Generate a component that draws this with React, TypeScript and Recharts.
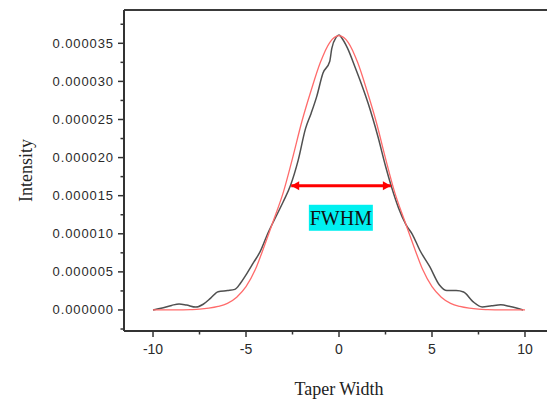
import React from "react";
import { LineChart, Line, XAxis, YAxis, ReferenceLine, ReferenceDot } from "recharts";

// ---- data (intensity values in absolute units) ----
const measuredX = [
  -10, -9.5, -9, -8.6, -8.2, -7.7, -7.3, -6.9, -6.5, -6.0, -5.6, -5.3, -5.0, -4.6, -4.24, -3.8,
  -3.4, -3.0, -2.6, -2.2, -1.8, -1.5, -1.2, -0.86, -0.5, -0.39, -0.15, 0, 0.15, 0.45, 0.86, 1.2,
  1.57, 2.1, 2.5, 2.83, 3.2, 3.6, 3.95, 4.34, 4.88, 5.4, 5.8, 6.3, 6.7, 7.2, 7.7, 8.2, 8.7, 9.2, 9.9,
];
const measuredY = [
  0, 0.25e-6, 0.6e-6, 0.8e-6, 0.65e-6, 0.38e-6, 0.75e-6, 1.55e-6, 2.4e-6, 2.55e-6, 2.7e-6, 3.5e-6,
  4.6e-6, 6.2e-6, 7.65e-6, 10.2e-6, 12.2e-6, 14.2e-6, 16.4e-6, 19.6e-6, 23.8e-6, 25.8e-6, 28.0e-6,
  31.1e-6, 32.6e-6, 34.3e-6, 35.8e-6, 36.1e-6, 35.7e-6, 34.4e-6, 31.9e-6, 29.7e-6, 27.1e-6, 22.7e-6,
  18.9e-6, 16.1e-6, 13.4e-6, 11.2e-6, 9.9e-6, 7.87e-6, 5.68e-6, 3.28e-6, 2.55e-6, 2.55e-6, 2.35e-6,
  1.1e-6, 0.4e-6, 0.55e-6, 0.68e-6, 0.45e-6, 0,
];
const fitX = [
  -10, -9.5, -9, -8.5, -8, -7.5, -7, -6.5, -6, -5.5, -5, -4.5, -4, -3.5, -3, -2.5, -2, -1.5, -1, -0.5,
  0, 0.5, 1, 1.5, 2, 2.5, 3, 3.5, 4, 4.5, 5, 5.5, 6, 6.5, 7, 7.5, 8, 8.5, 9, 9.5, 10,
];
const fitY = [
  0, 0, 0.01e-6, 0.02e-6, 0.05e-6, 0.1e-6, 0.23e-6, 0.46e-6, 0.87e-6, 1.68e-6, 3.05e-6, 5.3e-6, 8.5e-6,
  11.9e-6, 15.4e-6, 19.9e-6, 24.7e-6, 28.8e-6, 32.5e-6, 35.1e-6, 36.0e-6, 35.1e-6, 32.5e-6, 28.8e-6,
  24.7e-6, 19.9e-6, 15.4e-6, 11.9e-6, 8.5e-6, 5.3e-6, 3.05e-6, 1.68e-6, 0.87e-6, 0.46e-6, 0.23e-6,
  0.1e-6, 0.05e-6, 0.02e-6, 0.01e-6, 0, 0,
];
const fwhmX = [-2.57, 2.79];
const fwhmY = [16.3e-6, 16.3e-6];
const fwhmLabelPos = { x: 0.1, y: 12.1e-6 };

const xTicks = [-10, -7.5, -5, -2.5, 0, 2.5, 5, 7.5, 10];
const xMajor = [-10, -5, 0, 5, 10];
const yTicks = [
  -2.5e-6, 0, 2.5e-6, 5e-6, 7.5e-6, 10e-6, 12.5e-6, 15e-6, 17.5e-6, 20e-6, 22.5e-6, 25e-6, 27.5e-6,
  30e-6, 32.5e-6, 35e-6, 37.5e-6,
];
const xDomain = [-11.56, 11.56];
const yDomain = [-2.76e-6, 39.37e-6];
const rightBorderBottom = 17e-6;

const measured = measuredX.map((x, i) => ({ x, y: measuredY[i] }));
const fit = fitX.map((x, i) => ({ x, y: fitY[i] }));
const arrow = fwhmX.map((x, i) => ({ x, y: fwhmY[i] }));

const AXIS = "#333";
const TICK_FONT = "'Liberation Sans', Arial, sans-serif";
const SERIF = "'Liberation Serif', 'Times New Roman', serif";

const isMajorY = (v: number) => Math.abs(Math.round(v / 5e-6) * 5e-6 - v) < 1e-10;

function YTick(props: any) {
  const { x, y, payload } = props;
  const v = payload.value as number;
  const major = isMajorY(v);
  return (
    <g>
      <line x1={x - (major ? 6 : 3.5)} x2={x} y1={y} y2={y} stroke={AXIS} strokeWidth={1.5} />
      {major && (
        <text
          x={x - 10}
          y={y}
          dy={4.3}
          textAnchor="end"
          fontSize={13}
          letterSpacing={0.9}
          fontFamily={TICK_FONT}
          fill="#2a2a2a"
        >
          {Math.abs(v) < 1e-12 ? "0.000000" : v.toFixed(6)}
        </text>
      )}
    </g>
  );
}

function XTick(props: any) {
  const { x, y, payload } = props;
  const v = payload.value as number;
  const major = xMajor.includes(v);
  return (
    <g>
      <line x1={x} x2={x} y1={y} y2={y + (major ? 6 : 3.5)} stroke={AXIS} strokeWidth={1.5} />
      {major && (
        <text x={x} y={y + 23} textAnchor="middle" fontSize={14} fontFamily={TICK_FONT} fill="#2a2a2a">
          {String(v)}
        </text>
      )}
    </g>
  );
}

function ArrowHead(props: any) {
  const { cx, cy, index } = props;
  if (cx == null || cy == null) return null;
  const dir = index === 0 ? 1 : -1;
  const pts = `${cx},${cy} ${cx + dir * 8},${cy - 4.5} ${cx + dir * 8},${cy + 4.5}`;
  return <polygon key={`ah-${index}`} points={pts} fill="#ff0000" />;
}

function FwhmLabel(props: any) {
  const { cx, cy } = props;
  if (cx == null || cy == null) return null;
  return (
    <g>
      <rect x={cx - 32} y={cy - 13} width={64} height={26} fill="#00f0f0" />
      <text x={cx} y={cy + 7.5} textAnchor="middle" fontSize={20} fontFamily={SERIF} fill="#111">
        FWHM
      </text>
    </g>
  );
}

export default function App() {
  return (
    <div style={{ width: 547, height: 395, background: "#fff" }}>
      <LineChart width={547} height={395} margin={{ top: 2, right: 1, left: 0, bottom: 0 }}>
        <XAxis
          type="number"
          dataKey="x"
          domain={xDomain}
          ticks={xTicks}
          interval={0}
          allowDataOverflow
          height={72}
          tickSize={0}
          tickMargin={0}
          tickLine={false}
          tick={<XTick />}
          axisLine={{ stroke: AXIS, strokeWidth: 2 }}
          label={{
            value: "Taper Width",
            position: "insideBottom",
            offset: 8,
            fontSize: 18,
            fontFamily: SERIF,
            fill: "#222",
          }}
        />
        <YAxis
          type="number"
          dataKey="y"
          domain={yDomain}
          ticks={yTicks}
          interval={0}
          allowDataOverflow
          width={116}
          tickSize={0}
          tickMargin={0}
          tickLine={false}
          tick={<YTick />}
          axisLine={{ stroke: AXIS, strokeWidth: 2 }}
          label={{
            content: (p: any) => {
              const vb = p.viewBox || { x: 0, y: 2, height: 321 };
              const cx = 18;
              const cy = vb.y + vb.height / 2 + 0;
              return (
                <text
                  x={cx}
                  y={cy}
                  transform={`rotate(-90, ${cx}, ${cy})`}
                  textAnchor="middle"
                  dominantBaseline="central"
                  fontSize={18}
                  fontFamily={SERIF}
                  fill="#222"
                >
                  Intensity
                </text>
              );
            },
          }}
        />
        <ReferenceLine y={yDomain[1]} stroke="#3a3a3a" strokeWidth={2} ifOverflow="extendDomain" />
        <ReferenceLine
          segment={[
            { x: xDomain[1], y: yDomain[1] },
            { x: xDomain[1], y: rightBorderBottom },
          ]}
          stroke="#888"
          strokeWidth={1.5}
          ifOverflow="visible"
        />
        <Line
          data={measured}
          dataKey="y"
          type="monotone"
          stroke="#505050"
          strokeWidth={1.5}
          dot={false}
          activeDot={false}
          isAnimationActive={false}
        />
        <Line
          data={fit}
          dataKey="y"
          type="monotone"
          stroke="#ff6b6b"
          strokeWidth={1.3}
          dot={false}
          activeDot={false}
          isAnimationActive={false}
        />
        <Line
          data={arrow}
          dataKey="y"
          type="linear"
          stroke="#ff0000"
          strokeWidth={3}
          dot={<ArrowHead />}
          activeDot={false}
          isAnimationActive={false}
        />
        <ReferenceDot x={fwhmLabelPos.x} y={fwhmLabelPos.y} shape={<FwhmLabel />} ifOverflow="visible" />
      </LineChart>
    </div>
  );
}
